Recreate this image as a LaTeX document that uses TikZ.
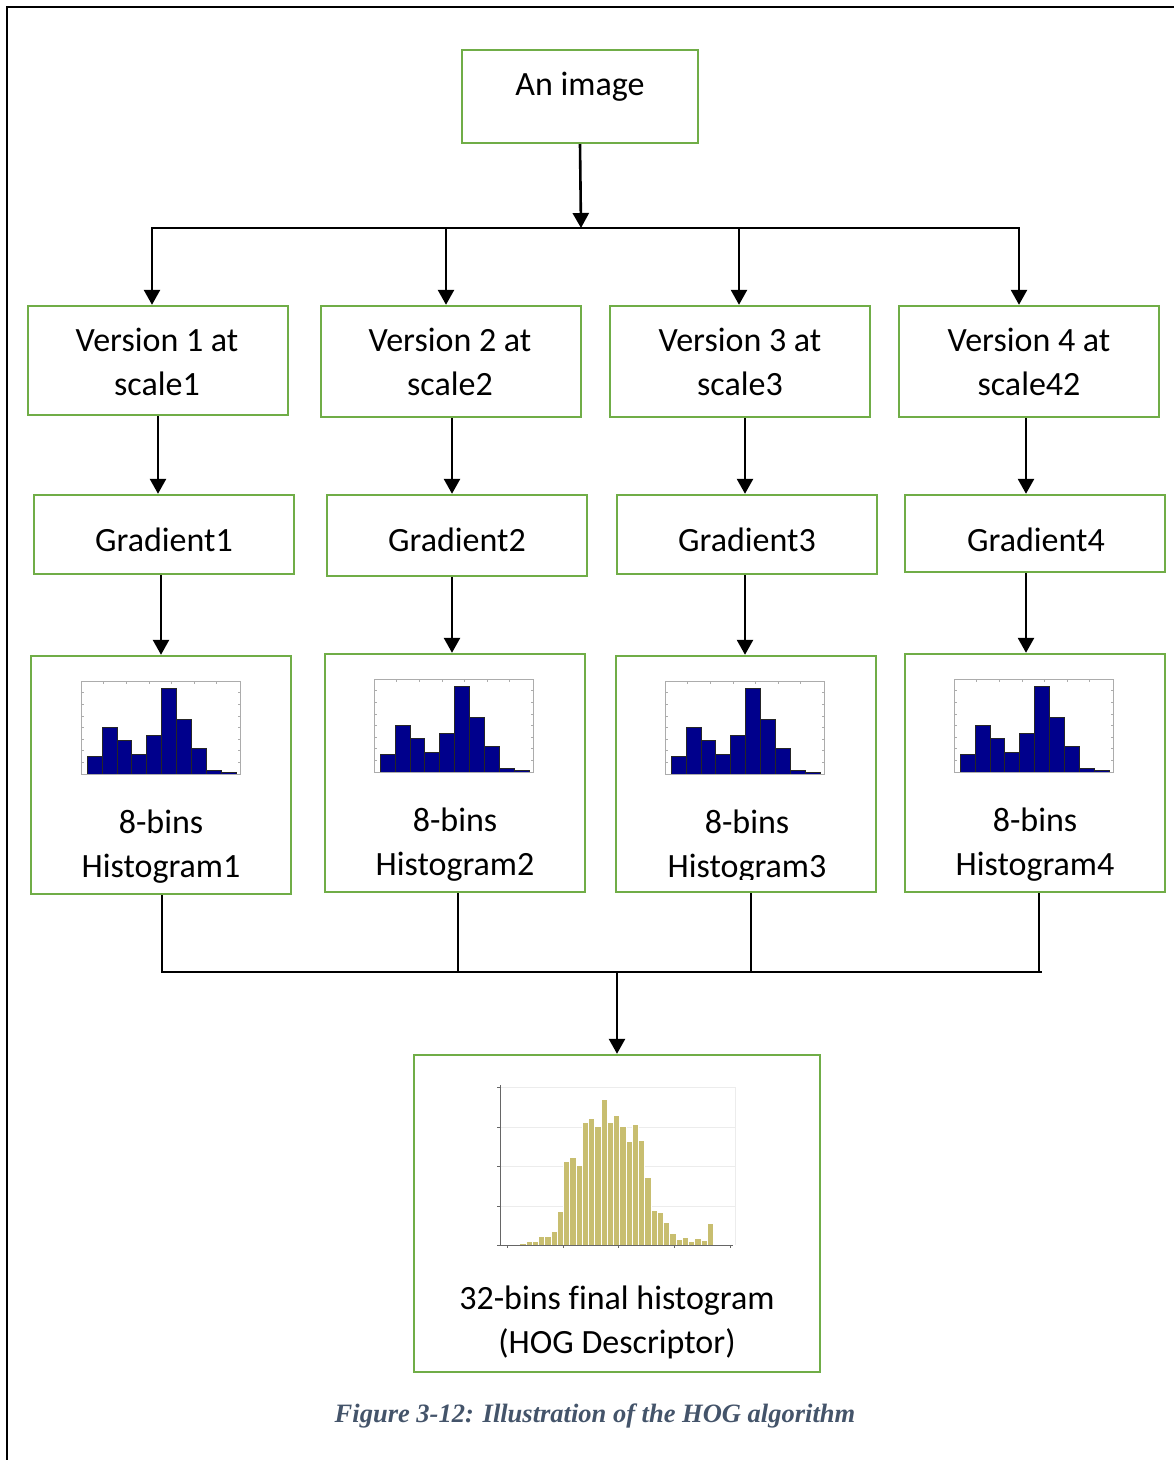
\documentclass[tikz,border=0pt]{standalone}
\usepackage{fontspec}
\setmainfont{Carlito}[Ligatures=NoCommon]
\newfontfamily\capfont{Liberation Serif}
\usetikzlibrary{arrows.meta}
\definecolor{boxgreen}{RGB}{112,173,71}
\definecolor{barblue}{RGB}{0,0,140}
\definecolor{barkhaki}{RGB}{200,190,112}
\definecolor{capblue}{RGB}{68,84,106}

% small 10-bin histogram; #1,#2 = top-left corner of its axes
\newcommand\smallhist[2]{%
  \begin{scope}[shift={(#1,#2)}]
    \foreach \h [count=\i from 0] in {17.7,47,34,19.7,38.7,85.7,55,25.3,3.7,1.3}
      \filldraw[fill=barblue, draw=black!85, line width=0.5pt]
        (6+14.9*\i,93) rectangle ++(14.9,-\h);
    \draw[gray!65, line width=0.7pt] (0,0) rectangle (159,93);
    \foreach \k in {1,...,6}
      \draw[gray!65, line width=0.5pt] (22.6*\k,0) -- ++(0,2.5);
    \foreach \k in {1,...,7} {
      \draw[gray!65, line width=0.5pt] (0,11.6*\k) -- ++(2.5,0);
      \draw[gray!65, line width=0.5pt] (159,11.6*\k) -- ++(-2.5,0);
    }
  \end{scope}}

% large histogram; #1,#2 = bottom-left corner of its axes
\newcommand\bighist[2]{%
  \begin{scope}[shift={(#1,#2)}]
    \foreach \g in {39,79,118,158}
      \draw[gray!15, line width=0.7pt] (0,-\g) -- (235,-\g);
    \draw[gray!15, line width=0.7pt] (235,0) -- (235,-158);
    \foreach \h [count=\i from 0] in {0.7,0.3,1,1.7,3.3,3.3,8.3,8.3,13.3,33.3,83.3,87.7,80,122.7,126.7,119,145.7,122.7,129.3,118.3,103.3,120.7,104.3,67.7,35,32.3,22.7,11.7,6,8,4,6.7,5,22}
      \filldraw[fill=barkhaki, draw=white, line width=0.6pt]
        (1+6.25*\i,0) rectangle ++(6.25,\h*-1);
    \draw[gray!80!black, line width=0.8pt] (0,-160) -- (0,0) -- (233,0);
    \foreach \t in {7,63,118,174,230}
      \draw[gray!80!black, line width=0.6pt] (\t,0) -- ++(0,3);
    \foreach \g in {0,39,79,118,158}
      \draw[gray!80!black, line width=0.6pt] (0,-\g) -- ++(-3,0);
  \end{scope}}

\begin{document}
\begin{tikzpicture}[x=1pt,y=-1pt,
  box/.style={draw=boxgreen, line width=2.4pt, inner sep=0pt},
  colbox/.style={box, minimum width=260pt},
  lbl/.style={font=\fontsize{34}{44}\selectfont, align=center, text=black, inner sep=0pt},
  conn/.style={line width=2.6pt},
  arr/.style={conn, -{Triangle[length=15pt,width=16pt]}},
]
\useasboundingbox (0,0) rectangle (1174,1460);

% page frame (top and left edges)
\draw[line width=2.6pt] (7,1460) -- (7,7) -- (1174,7);

% source image
\node[box, minimum width=236pt, minimum height=93pt] (img) at (580,96.5) {};
\node[lbl] (imgtxt) at (580,87) {An image};

% scaled versions
\node[colbox, minimum height=109pt] (v1) at (158,360.5) {};
\node[colbox, minimum height=111pt] (v2) at (451,361.5) {};
\node[colbox, minimum height=111pt] (v3) at (740,361.5) {};
\node[colbox, minimum height=111pt] (v4) at (1029,361.5) {};
\node[lbl] (v1t) at (157,362) {Version 1 at\\scale1};
\node[lbl] (v2t) at (450,362) {Version 2 at\\scale2};
\node[lbl] (v3t) at (740,362) {Version 3 at\\scale3};
\node[lbl] (v4t) at (1029,362) {Version 4 at\\scale42};

% gradients
\node[colbox, minimum height=79pt] (g1) at (164,534.5) {};
\node[colbox, minimum height=81pt] (g2) at (457,535.5) {};
\node[colbox, minimum height=79pt] (g3) at (747,534.5) {};
\node[colbox, minimum height=77pt] (g4) at (1035,533.5) {};
\node[lbl] (g1t) at (164,540) {Gradient1};
\node[lbl] (g2t) at (457,540) {Gradient2};
\node[lbl] (g3t) at (747,540) {Gradient3};
\node[lbl] (g4t) at (1036,540) {Gradient4};

% 8-bin histograms
\node[colbox, minimum height=238pt] (h1) at (161,775) {};
\node[colbox, minimum height=238pt] (h2) at (455,773) {};
\node[colbox, minimum height=236pt] (h3) at (746,774) {};
\node[colbox, minimum height=238pt] (h4) at (1035,773) {};
\smallhist{81}{681}
\smallhist{374}{679}
\smallhist{665}{681}
\smallhist{954}{679}
\node[lbl] (h1t) at (161,846.5) {8-bins\\Histogram1};
\node[lbl] (h2t) at (455,844.5) {8-bins\\Histogram2};
\begin{scope}
  \clip (600,790) rectangle (900,879);
  \node[lbl] (h3t) at (747,846.5) {8-bins\\Histogram3};
\end{scope}
\node[lbl] (h4t) at (1035,844.5) {8-bins\\Histogram4};

% final descriptor
\node[box, minimum width=406pt, minimum height=317pt] (fin) at (617,1213.5) {};
\bighist{500}{1245}
\node[lbl] (fint) at (617,1322.5) {32-bins final histogram\\(HOG Descriptor)};

% caption
\node[font=\capfont\bfseries\itshape\fontsize{26.5}{32}\selectfont, text=capblue, inner sep=0pt]
  (cap) at (595,1415.5) {Figure 3-12: Illustration of the HOG algorithm};

% top distribution bus
\coordinate (top) at (581,228);
\coordinate (t1) at (152,228);
\coordinate (t2) at (446,228);
\coordinate (t3) at (739,228);
\coordinate (t4) at (1019,228);
\draw[arr] (img.south) -- (top);
\draw[conn, line cap=rect] (t1) -- (t4);
\draw[arr] (t1) -- (t1 |- v1.north);
\draw[arr] (t2) -- (t2 |- v2.north);
\draw[arr] (t3) -- (t3 |- v3.north);
\draw[arr] (t4) -- (t4 |- v4.north);

% per-column arrows
\coordinate (c1) at (158,0);
\coordinate (c2) at (452,0);
\coordinate (c3) at (745,0);
\coordinate (c4) at (1026,0);
\coordinate (d1) at (161,0);
\draw[arr] (v1.south -| c1) -- (g1.north -| c1);
\draw[arr] (v2.south -| c2) -- (g2.north -| c2);
\draw[arr] (v3.south -| c3) -- (g3.north -| c3);
\draw[arr] (v4.south -| c4) -- (g4.north -| c4);
\draw[arr] (g1.south -| d1) -- (h1.north -| d1);
\draw[arr] (g2.south -| c2) -- (h2.north -| c2);
\draw[arr] (g3.south -| c3) -- (h3.north -| c3);
\draw[arr] (g4.south -| c4) -- (h4.north -| c4);

% collecting bus
\coordinate (b1) at (162,972);
\coordinate (b2) at (458,972);
\coordinate (b3) at (751,972);
\coordinate (b4) at (1039,972);
\coordinate (bend) at (1042,972);
\coordinate (bmid) at (617,972);
\draw[conn] (h1.south -| b1) -- ([yshift=-1.2pt]b1);
\draw[conn] (h2.south -| b2) -- (b2);
\draw[conn] (h3.south -| b3) -- (b3);
\draw[conn] (h4.south -| b4) -- (b4);
\draw[conn] (b1) -- (bend);
\draw[arr] (bmid) -- (fin.north -| bmid);
\end{tikzpicture}
\end{document}
